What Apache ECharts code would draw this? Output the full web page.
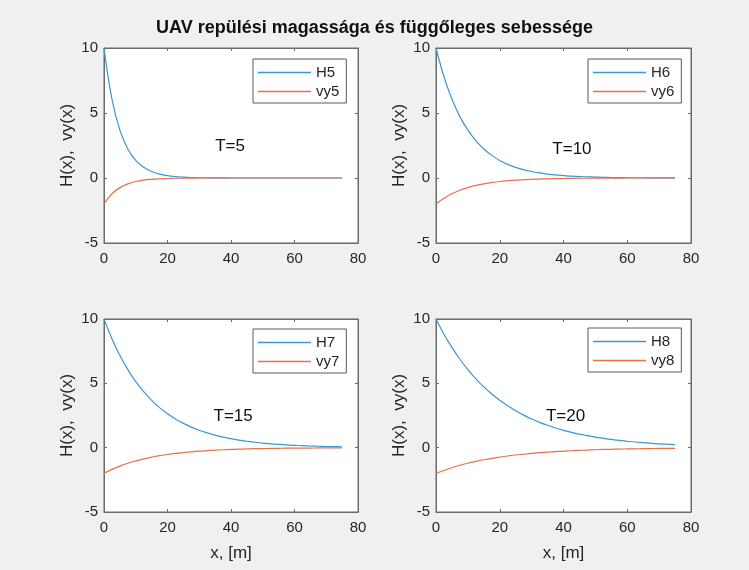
<!DOCTYPE html>
<html>
<head>
<meta charset="utf-8">
<script src="https://cdn.jsdelivr.net/npm/echarts@6/dist/echarts.min.js"></script>
<style>
html,body{margin:0;padding:0;background:#f0f0f0;}
#c{width:749px;height:570px;}
</style>
</head>
<body>
<div id="c"></div>
<script>
// ---- data ----
const titleText = 'UAV repülési magassága és függőleges sebessége';
const xs = [0,2.5,5,7.5,10,12.5,15,17.5,20,22.5,25,27.5,30,32.5,35,37.5,40,42.5,45,47.5,50,52.5,55,57.5,60,62.5,65,67.5,70,72.5,75];
const H5  = [10,6.07,3.68,2.23,1.35,0.82,0.50,0.30,0.18,0.11,0.07,0.04,0.02,0.01,0.01,0.01,0,0,0,0,0,0,0,0,0,0,0,0,0,0,0];
const vy5 = [-2,-1.21,-0.74,-0.45,-0.27,-0.16,-0.10,-0.06,-0.04,-0.02,-0.01,-0.01,0,0,0,0,0,0,0,0,0,0,0,0,0,0,0,0,0,0,0];
const H6  = [10,7.79,6.07,4.72,3.68,2.87,2.23,1.74,1.35,1.05,0.82,0.64,0.50,0.39,0.30,0.24,0.18,0.14,0.11,0.09,0.07,0.05,0.04,0.03,0.02,0.02,0.02,0.01,0.01,0.01,0.01];
const vy6 = [-2,-1.56,-1.21,-0.94,-0.74,-0.57,-0.45,-0.35,-0.27,-0.21,-0.16,-0.13,-0.10,-0.08,-0.06,-0.05,-0.04,-0.03,-0.02,-0.02,-0.01,-0.01,-0.01,-0.01,0,0,0,0,0,0,0];
const H7  = [10,8.47,7.17,6.07,5.13,4.35,3.68,3.11,2.64,2.23,1.89,1.60,1.35,1.15,0.97,0.82,0.70,0.59,0.50,0.42,0.36,0.30,0.26,0.22,0.18,0.16,0.13,0.11,0.09,0.08,0.07];
const vy7 = [-2,-1.69,-1.43,-1.21,-1.03,-0.87,-0.74,-0.62,-0.53,-0.45,-0.38,-0.32,-0.27,-0.23,-0.19,-0.16,-0.14,-0.12,-0.10,-0.08,-0.07,-0.06,-0.05,-0.04,-0.04,-0.03,-0.03,-0.02,-0.02,-0.02,-0.01];
const H8  = [10,8.82,7.79,6.87,6.07,5.35,4.72,4.17,3.68,3.25,2.87,2.53,2.23,1.97,1.74,1.53,1.35,1.19,1.05,0.93,0.82,0.72,0.64,0.56,0.50,0.44,0.39,0.34,0.30,0.27,0.24];
const vy8 = [-2,-1.77,-1.56,-1.37,-1.21,-1.07,-0.94,-0.83,-0.74,-0.65,-0.57,-0.51,-0.45,-0.39,-0.35,-0.31,-0.27,-0.24,-0.21,-0.19,-0.16,-0.14,-0.13,-0.11,-0.10,-0.09,-0.08,-0.07,-0.06,-0.05,-0.05];
const hNames  = ['H5','H6','H7','H8'];
const vyNames = ['vy5','vy6','vy7','vy8'];
const tLabels = ['T=5','T=10','T=15','T=20'];
const tLabelPos = [[35,2.4],[36.5,2.2],[34.5,2.4],[34.5,2.4]];
const xTicks = [0,80,20];   // min, max, interval
const yTicks = [-5,10,5];
const yLabel = 'H(x),  vy(x)';
const xLabel = 'x, [m]';

const Hs  = [H5,H6,H7,H8];
const Vys = [vy5,vy6,vy7,vy8];

// ---- layout / style ----
const FONT = '"Liberation Sans", Arial, Helvetica, sans-serif';
const BLUE = '#3b96d8';
const ORANGE = '#e6714b';
const AXC = '#6b6b6b';
const TXT = '#262626';
const grids = [
  {left:104, top:48, width:254, height:195},
  {left:436, top:48, width:255, height:195},
  {left:104, top:319, width:254, height:193},
  {left:436, top:319, width:255, height:193}
];
const legendPos = [[253,59],[588,59],[253,329],[588,328]];

const chart = echarts.init(document.getElementById('c'), null, {renderer:'canvas'});
const xAxis = [], yAxis = [], series = [], legend = [];

grids.forEach((g, i) => {
  g.show = true; g.backgroundColor = '#ffffff'; g.borderColor = AXC; g.borderWidth = 1;
  const bottomRow = i >= 2;
  xAxis.push({
    type:'value', gridIndex:i, min:xTicks[0], max:xTicks[1], interval:xTicks[2], position:'bottom',
    axisLine:{show:true, onZero:false, lineStyle:{color:AXC, width:1}},
    axisTick:{show:true, inside:true, length:3, lineStyle:{color:AXC}},
    axisLabel:{show:true, margin:8, fontSize:15, color:TXT, fontFamily:FONT},
    splitLine:{show:false},
    name: bottomRow ? xLabel : '', nameLocation:'middle', nameGap:33,
    nameTextStyle:{fontSize:17, color:TXT, fontFamily:FONT}
  });
  xAxis.push({
    type:'value', gridIndex:i, min:xTicks[0], max:xTicks[1], interval:xTicks[2], position:'top',
    axisLine:{show:true, onZero:false, lineStyle:{color:AXC, width:1}},
    axisTick:{show:true, inside:true, length:3, lineStyle:{color:AXC}},
    axisLabel:{show:false}, splitLine:{show:false}
  });
  yAxis.push({
    type:'value', gridIndex:i, min:yTicks[0], max:yTicks[1], interval:yTicks[2], position:'left',
    axisLine:{show:true, onZero:false, lineStyle:{color:AXC, width:1}},
    axisTick:{show:true, inside:true, length:3, lineStyle:{color:AXC}},
    axisLabel:{show:true, margin:6, fontSize:15, color:TXT, fontFamily:FONT},
    splitLine:{show:false},
    name: yLabel, nameLocation:'middle', nameGap:28,
    nameTextStyle:{fontSize:17, color:TXT, fontFamily:FONT}
  });
  yAxis.push({
    type:'value', gridIndex:i, min:yTicks[0], max:yTicks[1], interval:yTicks[2], position:'right',
    axisLine:{show:true, onZero:false, lineStyle:{color:AXC, width:1}},
    axisTick:{show:true, inside:true, length:3, lineStyle:{color:AXC}},
    axisLabel:{show:false}, splitLine:{show:false}
  });
  series.push({
    type:'line', name:hNames[i], xAxisIndex:2*i, yAxisIndex:2*i,
    data: xs.map((x, k) => [x, Hs[i][k]]),
    showSymbol:false, smooth:0.4,
    lineStyle:{color:BLUE, width:1.2}, itemStyle:{color:BLUE},
    silent:true, animation:false,
    markPoint:{
      symbol:'circle', symbolSize:0, silent:true, animation:false,
      data:[{coord:tLabelPos[i]}],
      label:{show:true, formatter:tLabels[i], position:'inside', align:'left', verticalAlign:'middle',
             fontSize:17, color:'#111', fontFamily:FONT}
    }
  });
  series.push({
    type:'line', name:vyNames[i], xAxisIndex:2*i, yAxisIndex:2*i,
    data: xs.map((x, k) => [x, Vys[i][k]]),
    showSymbol:false, smooth:0.4,
    lineStyle:{color:ORANGE, width:1.2}, itemStyle:{color:ORANGE},
    silent:true, animation:false
  });
  legend.push({
    data:[hNames[i], vyNames[i]], orient:'vertical', left:legendPos[i][0], top:legendPos[i][1],
    backgroundColor:'#ffffff', borderColor:'#5a5a5a', borderWidth:1, borderRadius:0,
    padding:[6,7,4,5], itemGap:4, itemWidth:53, itemHeight:1.5, icon:'rect',
    selectedMode:false,
    textStyle:{fontSize:15, color:TXT, fontFamily:FONT}
  });
});

chart.setOption({
  backgroundColor:'#f0f0f0',
  animation:false,
  title:{text:titleText, left:'center', top:14,
         textStyle:{fontSize:18, fontWeight:'bold', color:'#111', fontFamily:FONT}},
  grid:grids, xAxis:xAxis, yAxis:yAxis, series:series, legend:legend
});
</script>
</body>
</html>
